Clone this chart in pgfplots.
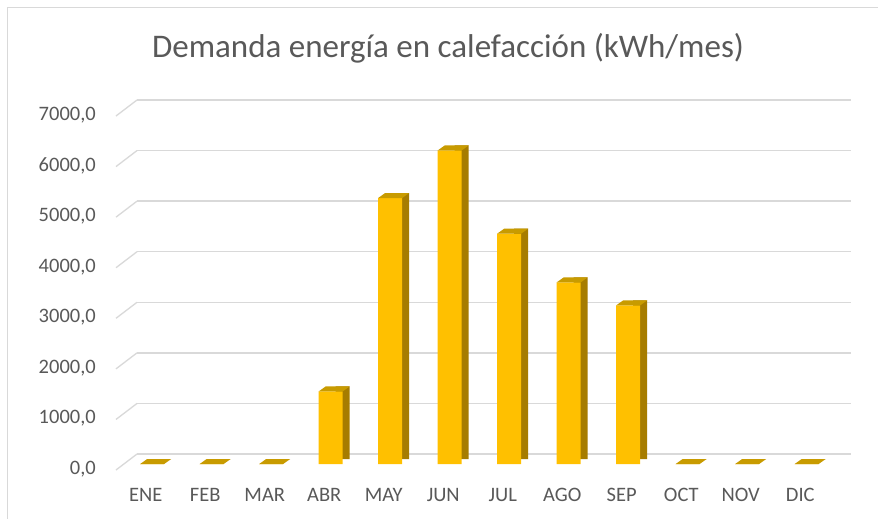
\documentclass[border=0pt]{standalone}
\usepackage{pgfplots}
\pgfplotsset{compat=1.18}
\usepackage{pgfplotstable}
\usepackage{fontspec}
\setmainfont{Carlito}
\definecolor{front}{HTML}{FFC000}
\definecolor{side}{HTML}{A67C00}
\definecolor{topc}{HTML}{C89B00}
\definecolor{gridc}{HTML}{D9D9D9}
\definecolor{txt}{HTML}{595959}
\pgfdeclareplotmark{topface}{%
 \pgfpathmoveto{\pgfqpoint{-26.6pt}{-10pt}}%
 \pgfpathlineto{\pgfqpoint{-2.6pt}{-10pt}}%
 \pgfpathlineto{\pgfqpoint{4.4pt}{-5pt}}%
 \pgfpathlineto{\pgfqpoint{-19.6pt}{-5pt}}%
 \pgfpathclose\pgfusepathqfill}
\pgfplotstableread{
i v
0 0
1 0
2 0
3 1435
4 5260
5 6200
6 4554
7 3591
8 3136
9 0
10 0
11 0
}\datatable
\begin{document}
\begin{tikzpicture}
\useasboundingbox (0,0) rectangle (878pt,-519pt);
\fill[white] (0,0) rectangle (878pt,-519pt);
\draw[gridc, line width=1.2pt] (7.5pt,-519pt) -- (7.5pt,-7.5pt) -- (878pt,-7.5pt);
\node[txt, font=\fontsize{33}{36}\selectfont] at (448pt,-48pt) {Demanda energía en calefacción (kWh/mes)};
\begin{axis}[at={(137pt,-454pt)}, anchor=south west, scale only axis, width=714pt, height=354pt,
 xmin=-0.5, xmax=11.5, ymin=0, ymax=7000, clip=false,
 axis line style={draw=none}, major tick length=0pt,
 ymajorgrids, grid style={gridc, line width=1.3pt},
 ytick={0,1000,...,7000}, scaled y ticks=false,
 xtick={0,...,11}, xticklabels={ENE,FEB,MAR,ABR,MAY,JUN,JUL,AGO,SEP,OCT,NOV,DIC},
 ticklabel style={font=\fontsize{20.5}{22}\selectfont, text=txt, inner sep=0pt},
 yticklabel style={anchor=east, xshift=-41pt, yshift=-15pt, /pgf/number format/.cd, fixed, fixed zerofill, precision=1, use comma, 1000 sep={}, assume math mode=true},
 xticklabel style={anchor=center, xshift=-21pt, yshift=-41pt},
]
\pgfplotsinvokeforeach{0,1000,2000,3000,4000,5000,6000,7000}{
 \draw[gridc, line width=1.3pt] (axis cs:-0.5,#1) -- ++(-21pt,-16pt);
}
\addplot[ybar, bar width=14pt, bar shift=-2.6pt, fill=side, draw=none, yshift=-5pt] table[x=i,y=v]{\datatable};
\addplot[ybar, bar width=24pt, bar shift=-14.6pt, fill=front, draw=none, yshift=-10pt] table[x=i,y=v]{\datatable};
\addplot[only marks, mark=topface, color=topc] table[x=i,y=v]{\datatable};
\end{axis}
\end{tikzpicture}
\end{document}
